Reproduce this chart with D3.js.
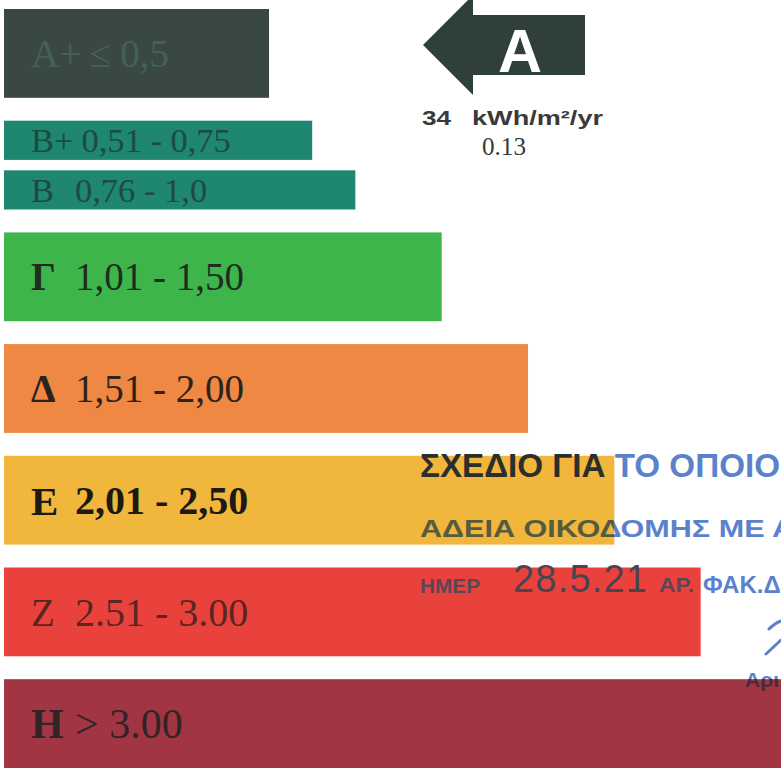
<!DOCTYPE html>
<html>
<head>
<meta charset="utf-8">
<script src="https://cdn.jsdelivr.net/npm/d3@7/dist/d3.min.js"></script>
<style>
  html, body { margin: 0; padding: 0; background: #ffffff; }
  svg { display: block; }
</style>
</head>
<body>
<script>
// ---------- data ----------
const classes   = ["Α+", "Β+", "Β", "Γ", "Δ", "Ε", "Ζ", "Η"];
const ranges    = ["≤ 0,5", "0,51 - 0,75", "0,76 - 1,0", "1,01 - 1,50", "1,51 - 2,00", "2,01 - 2,50", "2.51 - 3.00", "> 3.00"];
const barLength = [3, 3.5, 4, 5, 6, 7, 8, 9];           // bar length in class steps
const rows      = [["Α+"], ["Β+", "Β"], ["Γ"], ["Δ"], ["Ε"], ["Ζ"], ["Η"]];
const rating    = "A";
const energy    = "34";
const unit      = "kWh/m²/yr";
const ratio     = "0.13";
const stampLine1 = "ΣΧΕΔΙΟ ΓΙΑ ΤΟ ΟΠΟΙΟ";
const stampLine2 = "ΑΔΕΙΑ ΟΙΚΟΔΟΜΗΣ ΜΕ Α";
const stampDateLabel = "ΗΜΕΡ";
const stampDate = "28.5.21";
const stampFileA = "ΑΡ.";
const stampFileB = "ΦΑΚ.Δ";
const stampSign = "Αρι";

// ---------- styles ----------
const barColor = d3.scaleOrdinal().domain(classes)
  .range(["#3a4844", "#1e8671", "#1e8671", "#3db54b", "#ee8842", "#f1b73c", "#e9423d", "#a13543"]);
const textColor = d3.scaleOrdinal().domain(classes)
  .range(["#44605a", "#1d4a41", "#1d4a41", "#1f2d1f", "#2c231d", "#1c1a12", "#5a2622", "#2f2426"]);
const letterBold = new Set(["Γ", "Δ", "Ε", "Η"]);
const rangeBold  = new Set(["Ε"]);
const stampBlue = "#5b81cc";
const serif = "'Liberation Serif', 'Times New Roman', serif";
const sans  = "'Liberation Sans', Arial, sans-serif";

const W = 781, H = 768;
const svg = d3.select("body").append("svg").attr("width", W).attr("height", H);
svg.append("rect").attr("width", W).attr("height", H).attr("fill", "#fff");

// ---------- scales ----------
const x = d3.scaleLinear().domain([-0.07, 9]).range([4, 787]);
const x0 = x(x.domain()[0]);
const rowBand = d3.scaleBand().domain(d3.range(rows.length)).range([9, H]).paddingInner(0.205).paddingOuter(0);

const data = classes.map((c, i) => {
  const r = rows.findIndex(g => g.includes(c));
  const sub = d3.scaleBand().domain(rows[r]).range([0, rowBand.bandwidth()])
    .paddingInner(rows[r].length > 1 ? 0.21 : 0);
  return { cls: c, range: ranges[i], len: barLength[i],
           y: rowBand(r) + sub(c), h: sub.bandwidth() };
});
const byCls = Object.fromEntries(data.map(d => [d.cls, d]));

// ---------- bars ----------
const bars = svg.append("g");
bars.selectAll("rect").data(data).join("rect")
  .attr("x", x0)
  .attr("y", d => d.y)
  .attr("width", d => x(d.len) - x0)
  .attr("height", d => d.h)
  .attr("fill", d => barColor(d.cls));

// labels
const lab = svg.append("g");
const fs = d => Math.min(39, d.h * 0.88);
const letters = lab.selectAll("text.letter").data(data).join("text")
  .attr("class", "letter")
  .attr("x", x0 + 27)
  .attr("y", d => d.y + d.h / 2)
  .attr("dy", "0.35em")
  .attr("font-family", serif)
  .attr("font-size", d => d.cls === "Η" ? 42 : d.cls === "Ε" ? 41 : fs(d))
  .attr("font-weight", d => letterBold.has(d.cls) ? 700 : 400)
  .attr("fill", d => textColor(d.cls))
  .text(d => d.cls);
const letterEnd = [];
letters.each(function (d, i) { letterEnd[i] = x0 + 27 + this.getComputedTextLength(); });

lab.selectAll("text.range").data(data).join("text")
  .attr("class", "range")
  .attr("x", (d, i) => Math.max(x0 + 71, letterEnd[i] + 8))
  .attr("y", d => d.y + d.h / 2)
  .attr("dy", "0.35em")
  .attr("font-family", serif)
  .attr("font-size", d => d.cls === "Η" ? 42 : (d.cls === "Ε" || d.cls === "Ζ") ? 40 : fs(d))
  .attr("font-weight", d => rangeBold.has(d.cls) ? 700 : 400)
  .attr("fill", d => textColor(d.cls))
  .text(d => d.range);

// ---------- rating arrow ----------
const arrow = svg.append("g");
arrow.append("path")
  .attr("d", "M423,45 L473,-5 L473,15 L585,15 L585,75 L473,75 L473,95 Z")
  .attr("fill", "#2f3f3b");
arrow.append("text")
  .attr("x", 520).attr("y", 72)
  .attr("text-anchor", "middle")
  .attr("font-family", sans).attr("font-weight", 700).attr("font-size", 61)
  .attr("fill", "#ffffff")
  .text(rating);

const info = svg.append("g").attr("fill", "#3a3a3a");
info.append("text").attr("x", 422).attr("y", 125)
  .attr("font-family", sans).attr("font-weight", 700).attr("font-size", 21)
  .attr("textLength", 29).attr("lengthAdjust", "spacingAndGlyphs")
  .text(energy);
info.append("text").attr("x", 472).attr("y", 125)
  .attr("font-family", sans).attr("font-weight", 700).attr("font-size", 21)
  .attr("textLength", 131).attr("lengthAdjust", "spacingAndGlyphs")
  .text(unit);
info.append("text").attr("x", 482).attr("y", 155)
  .attr("font-family", serif).attr("font-size", 25)
  .attr("textLength", 44).attr("lengthAdjust", "spacingAndGlyphs")
  .text(ratio);

// ---------- stamp (ink darkens where it lies on a bar) ----------
const defs = svg.append("defs");
function splitGrad(id, horizontal, at, darkCol) {
  const g = defs.append("linearGradient").attr("id", id).attr("gradientUnits", "userSpaceOnUse");
  if (horizontal) g.attr("x1", 0).attr("x2", W).attr("y1", 0).attr("y2", 0);
  else g.attr("x1", 0).attr("x2", 0).attr("y1", 0).attr("y2", H);
  const o = horizontal ? at / W : at / H;
  const first = horizontal ? darkCol : stampBlue, second = horizontal ? stampBlue : darkCol;
  g.append("stop").attr("offset", o).attr("stop-color", first);
  g.append("stop").attr("offset", o).attr("stop-color", second);
}
splitGrad("g1", true, x(byCls["Ε"].len), "#2a2e2c");
splitGrad("g2", true, x(byCls["Ε"].len), "#575b3e");
splitGrad("g3", true, x(byCls["Ζ"].len), "#5a4656");
splitGrad("g4", false, byCls["Η"].y, "#4a2a3a");

const st = svg.append("g").attr("font-family", sans).attr("font-weight", 700);
st.append("text").attr("x", 420).attr("y", 477)
  .attr("font-size", 33)
  .attr("textLength", 360).attr("lengthAdjust", "spacingAndGlyphs")
  .attr("fill", "url(#g1)")
  .text(stampLine1);
st.append("text").attr("x", 420).attr("y", 537)
  .attr("font-size", 23)
  .attr("textLength", 374).attr("lengthAdjust", "spacingAndGlyphs")
  .attr("fill", "url(#g2)")
  .text(stampLine2);
st.append("text").attr("x", 420).attr("y", 593)
  .attr("font-size", 20)
  .attr("textLength", 60).attr("lengthAdjust", "spacingAndGlyphs")
  .attr("fill", "url(#g3)")
  .text(stampDateLabel);
st.append("text").attr("x", 659).attr("y", 592)
  .attr("font-size", 20)
  .attr("textLength", 35).attr("lengthAdjust", "spacingAndGlyphs")
  .attr("fill", "url(#g3)")
  .text(stampFileA);
st.append("text").attr("x", 703).attr("y", 593)
  .attr("font-size", 24)
  .attr("fill", "url(#g3)")
  .text(stampFileB);
st.append("text").attr("x", 745).attr("y", 687)
  .attr("font-size", 21)
  .attr("fill", "url(#g4)")
  .text(stampSign);
st.append("path")
  .attr("d", "M769,629 Q775,623 781,621 M766,654 L781,640")
  .attr("fill", "none").attr("stroke", stampBlue).attr("stroke-width", 3).attr("stroke-linecap", "round");

// date ink
svg.append("text").attr("x", 513).attr("y", 592)
  .attr("font-family", sans).attr("font-size", 38)
  .attr("textLength", 134).attr("lengthAdjust", "spacing")
  .attr("fill", "#4a4452")
  .text(stampDate);
</script>
</body>
</html>
